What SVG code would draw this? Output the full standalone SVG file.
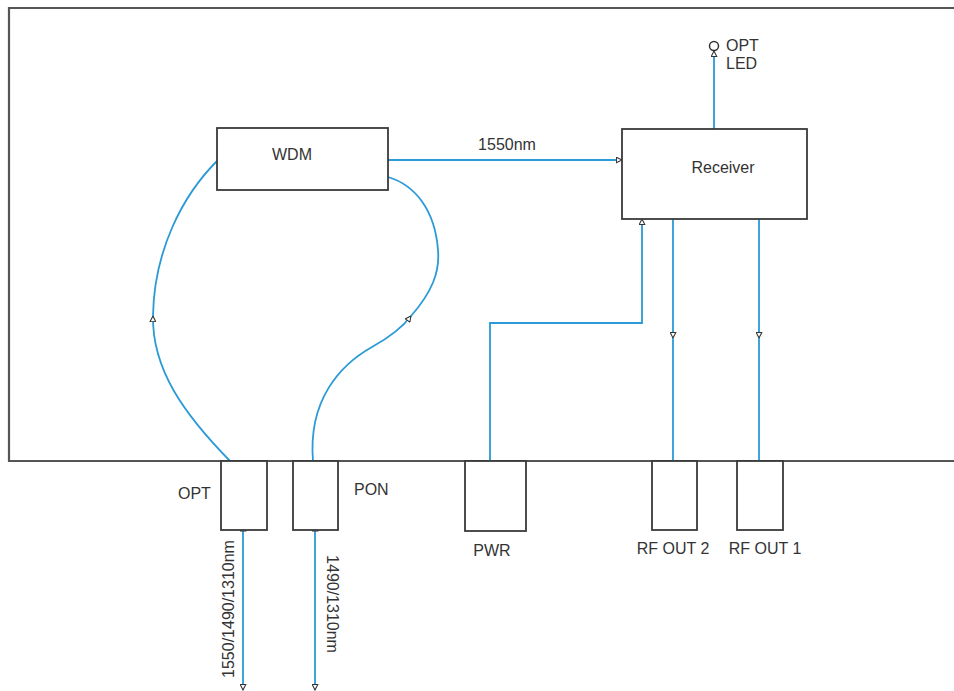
<svg xmlns="http://www.w3.org/2000/svg" width="954" height="691" viewBox="0 0 954 691">
<style>
.frame{fill:none;stroke:#555;stroke-width:2.2}
.box{fill:#fff;stroke:#3a3a3a;stroke-width:1.8}
.wire{fill:none;stroke:#2b9ad6;stroke-width:1.8}
.t{font-family:"Liberation Sans",Arial,sans-serif;font-size:16px;fill:#333}
.m{text-anchor:middle}
</style>
<defs>
<marker id="arr" viewBox="0 0 10 10" refX="9" refY="5" markerWidth="7" markerHeight="7" markerUnits="userSpaceOnUse" orient="auto">
<path d="M1,1 L9,5 L1,9 Z" fill="#fff" stroke="#333" stroke-width="1.5"/>
</marker>
<marker id="arrs" viewBox="0 0 10 10" refX="1" refY="5" markerWidth="7" markerHeight="7" markerUnits="userSpaceOnUse" orient="auto-start-reverse">
<path d="M1,1 L9,5 L1,9 Z" fill="#fff" stroke="#333" stroke-width="1.5"/>
</marker>
</defs>
<rect width="954" height="691" fill="#fff"/>
<g id="frame">
<path class="frame" d="M954,8 L9,8 L9,461 L954,461"/>
</g>
<g id="connectors">
<line class="wire" x1="388" y1="160" x2="622" y2="160" marker-end="url(#arr)"/>
<line class="wire" x1="714" y1="129" x2="714" y2="51" marker-end="url(#arr)"/>
<path class="wire" d="M230,461 C185,415 152,370 153,316" marker-end="url(#arr)"/>
<path class="wire" d="M153,316 C154,250 183,195 217,161"/>
<path class="wire" d="M313,461 C308,400 340,365 372,347 C390,337 402,328 411,316" marker-end="url(#arr)"/>
<path class="wire" d="M411,316 C432,292 440,272 438,250 C435,210 415,185 388,177"/>
<path class="wire" d="M490,461 L490,323 L642,323 L642,219" marker-end="url(#arr)"/>
<line class="wire" x1="673" y1="219" x2="673" y2="338" marker-end="url(#arr)"/>
<line class="wire" x1="673" y1="338" x2="673" y2="461"/>
<line class="wire" x1="759" y1="219" x2="759" y2="338" marker-end="url(#arr)"/>
<line class="wire" x1="759" y1="338" x2="759" y2="461"/>
<line class="wire" x1="243" y1="531" x2="243" y2="690" marker-start="url(#arrs)" marker-end="url(#arr)"/>
<line class="wire" x1="315" y1="531" x2="315" y2="690" marker-start="url(#arrs)" marker-end="url(#arr)"/>
<text class="t m" x="507" y="150">1550nm</text>
<text class="t m" transform="translate(234,609) rotate(-90)">1550/1490/1310nm</text>
<text class="t m" transform="translate(327,604) rotate(90)">1490/1310nm</text>
</g>
<g id="wdm">
<rect class="box" x="217" y="128" width="171" height="62"/>
<text class="t m" x="292" y="160">WDM</text>
</g>
<g id="receiver">
<rect class="box" x="622" y="129" width="185" height="90"/>
<text class="t m" x="723" y="173">Receiver</text>
</g>
<g id="opt-led">
<circle cx="714" cy="46" r="4.5" fill="#fff" stroke="#333" stroke-width="1.5"/>
<text class="t" x="726" y="51">OPT</text>
<text class="t" x="726" y="69">LED</text>
</g>
<g id="opt">
<rect class="box" x="221" y="461" width="46" height="69"/>
<text class="t" x="178" y="499">OPT</text>
</g>
<g id="pon">
<rect class="box" x="293" y="461" width="45" height="69"/>
<text class="t" x="354" y="495">PON</text>
</g>
<g id="pwr">
<rect class="box" x="465" y="461" width="61" height="70"/>
<text class="t m" x="492" y="556">PWR</text>
</g>
<g id="rf-out-2">
<rect class="box" x="652" y="461" width="45" height="69"/>
<text class="t m" x="673" y="554">RF OUT 2</text>
</g>
<g id="rf-out-1">
<rect class="box" x="737" y="461" width="46" height="69"/>
<text class="t m" x="765" y="554">RF OUT 1</text>
</g>
</svg>
